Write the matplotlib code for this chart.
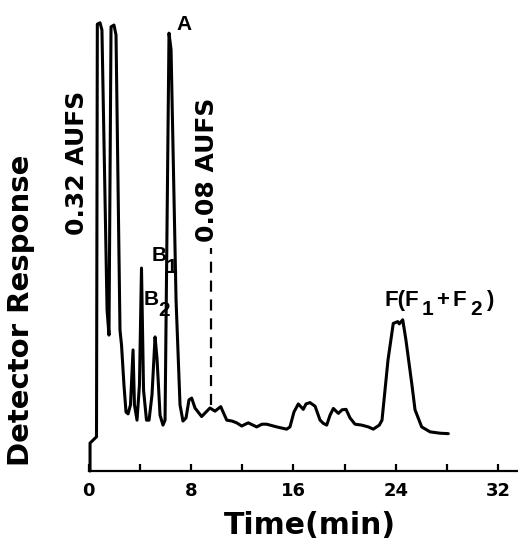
import matplotlib
matplotlib.use("Agg")
import matplotlib.pyplot as plt

# ---- data ----
time_min = [0.12, 0.12, 0.625, 0.69, 0.90, 1.05, 1.45, 1.60, 1.76, 1.99, 2.15, 2.46, 2.58,
            2.77, 2.93, 3.09, 3.28, 3.48, 3.59, 3.79, 3.98, 4.14, 4.30, 4.53, 4.73, 4.96,
            5.20, 5.35, 5.59, 5.82, 5.98, 6.29, 6.45, 6.84, 7.15, 7.38, 7.62, 7.85, 8.06,
            8.32, 8.84, 9.18, 9.49, 9.88, 10.33, 10.80, 11.21, 11.58, 11.97, 12.48, 13.14,
            13.55, 13.92, 14.70, 15.48, 15.74, 16.05, 16.39, 16.78, 16.99, 17.30, 17.70,
            18.09, 18.34, 18.61, 18.87, 19.13, 19.52, 19.81, 20.12, 20.43, 20.82, 21.34,
            21.86, 22.25, 22.72, 22.93, 23.40, 23.81, 24.16, 24.28, 24.55, 24.80, 25.27,
            25.51, 26.03, 26.68, 27.46, 28.11]
response = [0.0, 6.2, 7.6, 99.3, 99.6, 98.0, 35.8, 30.2, 98.7, 99.1, 96.9, 31.3, 28.0,
            19.1, 13.1, 12.7, 14.7, 26.9, 14.7, 11.3, 19.1, 45.1, 18.0, 11.3, 11.3, 16.9,
            29.8, 25.1, 12.4, 10.2, 11.3, 97.3, 93.6, 38.0, 14.7, 11.1, 11.8, 15.8, 16.2,
            14.0, 12.1, 13.1, 14.0, 13.3, 14.3, 11.3, 11.1, 10.7, 10.0, 10.7, 9.8,
            10.4, 10.4, 9.8, 9.3, 9.8, 13.1, 14.9, 13.7, 14.9, 15.2, 14.4,
            11.3, 10.6, 10.2, 12.4, 13.9, 12.8, 13.6, 13.7, 11.8, 10.4, 10.2,
            9.8, 9.3, 10.2, 11.3, 24.7, 32.8, 33.2, 32.7, 33.6, 29.1, 19.1,
            13.6, 9.8, 8.7, 8.4, 8.3]
switch_time = 9.55          # attenuation change 0.32 -> 0.08 AUFS
switch_range = [14.7, 49.6]
major_ticks = [0, 8, 16, 24, 32]
minor_ticks = [4, 12, 20, 28]

W, H = 518, 543
fig = plt.figure(figsize=(W / 100, H / 100), dpi=100)
x0, x1, y0, y1 = 88.5, 518, 471, 0
ax = fig.add_axes([x0 / W, 1 - y0 / H, (x1 - x0) / W, (y0 - y1) / H])
ax.set_xlim(0, (x1 - x0) / 12.8)
ax.set_ylim(0, (y0 - y1) / 4.5)

ax.plot(time_min, response, color="black", lw=2.2, solid_joinstyle="round",
        solid_capstyle="round", clip_on=False)
ax.plot([switch_time, switch_time], switch_range, color="black", lw=1.6,
        dashes=(5, 3.5))

for s in ["top", "right", "left"]:
    ax.spines[s].set_visible(False)
ax.spines["bottom"].set_linewidth(1.6)
ax.set_yticks([])
ax.set_xticks(major_ticks)
ax.set_xticks(minor_ticks, minor=True)
ax.tick_params(axis="x", which="both", direction="in", length=5, width=1.6, pad=8,
               labelsize=13)
for lab in ax.get_xticklabels():
    lab.set_fontweight("bold")


def ptext(x, y, s, **kw):
    return fig.text(x / W, 1 - y / H, s, **kw)


ptext(21, 310, "Detector Response", rotation=90, ha="center", va="center",
      fontsize=21, fontweight="bold")
ptext(310, 534, "Time(min)", ha="center", va="baseline", fontsize=21.5, fontweight="bold")
ptext(77, 163, "0.32 AUFS", rotation=90, ha="center", va="center", fontsize=18,
      fontweight="bold")
ptext(207, 170, "0.08 AUFS", rotation=90, ha="center", va="center", fontsize=18,
      fontweight="bold")

lab = dict(family="Liberation Sans", fontweight="bold", va="baseline", ha="left")
ptext(176, 30, "A", fontsize=15, **lab)
ptext(152, 261, "B", fontsize=15, **lab)
ptext(166, 273, "1", fontsize=15, **lab)
ptext(144, 305, "B", fontsize=15, **lab)
ptext(158, 316, "2", fontsize=15, **lab)
ptext(385, 306, "F(F", fontsize=16, **lab)
ptext(422, 315, "1", fontsize=15, **lab)
ptext(436, 306, "+", fontsize=16, **lab)
ptext(453, 306, "F", fontsize=16, **lab)
ptext(470, 315, "2", fontsize=15, **lab)
ptext(486, 306, ")", fontsize=16, **lab)

fig.savefig("out.png", dpi=100)
